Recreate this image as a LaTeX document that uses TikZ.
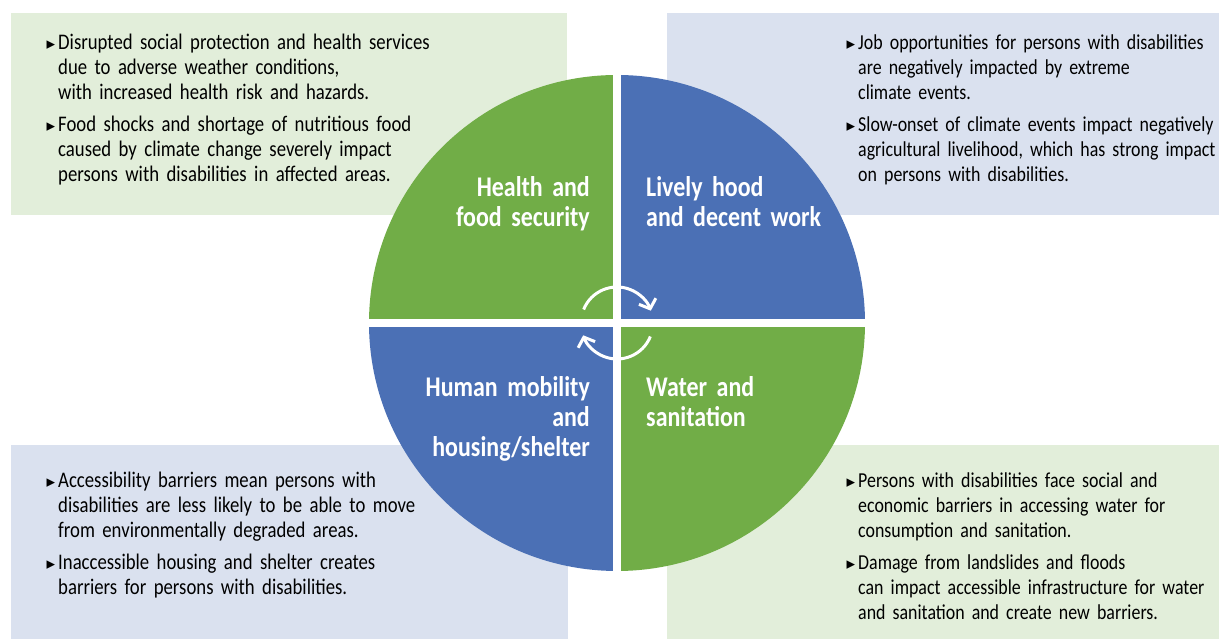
\documentclass[tikz,border=0pt]{standalone}
\usepackage{fontspec}
\setmainfont{Carlito}[FakeStretch=0.84,WordSpace=0.8]
\newfontfamily\symfont{DejaVu Sans}
\usetikzlibrary{arrows.meta}

\definecolor{qgreen}{RGB}{113,173,71}
\definecolor{qblue}{RGB}{75,112,181}
\definecolor{lgreen}{RGB}{226,238,218}
\definecolor{lblue}{RGB}{218,225,239}

\newcommand{\bul}{\llap{{\symfont\fontsize{17}{17}\selectfont ▸}\hspace{3pt}}}

\tikzset{
  item/.style={anchor=base west, text width=430pt, align=left, inner sep=0pt,
    font=\fontsize{#1}{25}\selectfont},
  item/.default=22.3,
  qlabel/.style={text=white, text width=250pt, inner sep=0pt,
    font=\bfseries\fontsize{28.5}{30}\selectfont},
  cycle arrow/.style={white, line width=3pt, -{Straight Barb[length=8pt,width=18pt]}},
}

\begin{document}
\begin{tikzpicture}[x=1pt,y=1pt]
\useasboundingbox (0,0) rectangle (1219,639);

% text panels
\fill[lgreen] (11,424) rectangle (567,626);
\fill[lblue] (667,424) rectangle (1219,626);
\fill[lblue] (11,0) rectangle (568,194);
\fill[lgreen] (667,0) rectangle (1219,194);

% the four quarters
\coordinate (c) at (617,316);
\begin{scope}
  \clip (c) circle (248pt);
  \fill[qgreen] (360,320) rectangle (613,570);
  \fill[qblue] (621,320) rectangle (870,570);
  \fill[qblue] (360,312) rectangle (613,60);
  \fill[qgreen] (621,312) rectangle (870,60);
\end{scope}

% cycle
\draw[cycle arrow] ([shift={(158:36)}]c) arc[start angle=158, end angle=20, radius=36];
\draw[cycle arrow] ([shift={(-22:36)}]c) arc[start angle=-22, end angle=-160, radius=36];

% quarter titles
\node[qlabel, anchor=base east, align=right] (health) at (590,442)
  {Health and\\food security};
\node[qlabel, anchor=base west, align=left] (work) at (646,442)
  {Lively hood\\and decent work};
\node[qlabel, anchor=base east, align=right] (mobility) at (590,242)
  {Human mobility\\and\\housing/shelter};
\node[qlabel, anchor=base west, align=left] (water) at (646,242)
  {Water and\\sanitation};

% health
\node[item] (health1) at (58,589) {\bul Disrupted social protection and health services\\
  due to adverse weather conditions,\\with increased health risk and hazards.};
\node[item] (health2) at (58,507) {\bul Food shocks and shortage of nutritious food\\
  caused by climate change severely impact\\persons with disabilities in affected areas.};

% work
\node[item=21.3] (work1) at (858,589) {\bul Job opportunities for persons with disabilities\\
  are negatively impacted by extreme\\climate events.};
\node[item=21.3] (work2) at (858,507) {\bul Slow-onset of climate events impact negatively\\
  agricultural livelihood, which has strong impact\\on persons with disabilities.};

% mobility
\node[item] (mobility1) at (58,151) {\bul Accessibility barriers mean persons with\\
  disabilities are less likely to be able to move\\from environmentally degraded areas.};
\node[item] (mobility2) at (58,69) {\bul Inaccessible housing and shelter creates\\
  barriers for persons with disabilities.};

% water
\node[item=21.3] (water1) at (858,151) {\bul Persons with disabilities face social and\\
  economic barriers in accessing water for\\consumption and sanitation.};
\node[item=21.3] (water2) at (858,69) {\bul Damage from landslides and floods\\
  can impact accessible infrastructure for water\\and sanitation and create new barriers.};
\end{tikzpicture}
\end{document}
